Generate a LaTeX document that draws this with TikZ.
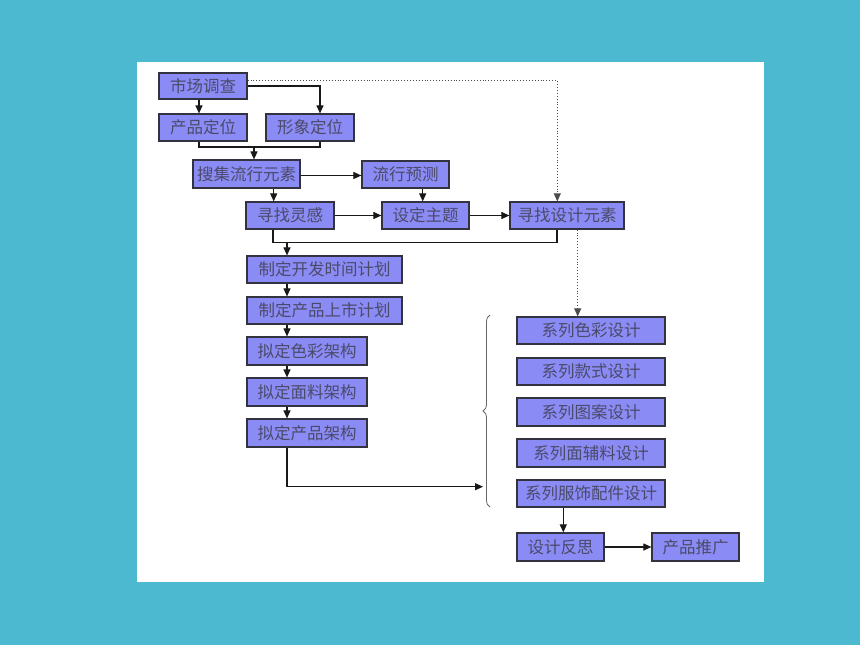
\documentclass[tikz,border=0pt]{standalone}
\usepackage{fontspec}
\newfontfamily\cjk{Noto Sans CJK SC}
\usetikzlibrary{arrows.meta,calc,decorations.pathreplacing}
\definecolor{bgteal}{HTML}{4CB9D0}
\definecolor{boxfill}{HTML}{8B8BF5}
\definecolor{boxtext}{HTML}{4A4A6A}
\definecolor{boxline}{HTML}{333340}
\begin{document}
\begin{tikzpicture}[x=1pt,y=-1pt,
  box/.style={draw=boxline,line width=1.2pt,fill=boxfill,text=boxtext,inner sep=0pt,
    font=\cjk\fontsize{16.5}{16.5}\selectfont,minimum height=27},
  conn/.style={line width=1.1pt,draw=black!90},
  arr/.style={conn,-{Triangle[length=8,width=7]}},
  dotarr/.style={line width=0.9pt,draw=black!70,dotted,-{Triangle[length=8,width=7]}}]
\fill[bgteal] (0,0) rectangle (860,645);
\fill[white] (137,62) rectangle (764,582);
\useasboundingbox (0,0) rectangle (860,645);
% nodes
\node[box,minimum width=88,minimum height=26] (a) at (203,86) {市场调查};
\node[box,minimum width=88] (b) at (203,127.5) {产品定位};
\node[box,minimum width=88] (c) at (310,127.5) {形象定位};
\node[box,minimum width=107,minimum height=28] (d) at (246.5,174) {搜集流行元素};
\node[box,minimum width=87] (e) at (405.5,174.5) {流行预测};
\node[box,minimum width=88] (f) at (290,215.5) {寻找灵感};
\node[box,minimum width=87] (g) at (425.5,215.5) {设定主题};
\node[box,minimum width=114] (h) at (567,215.5) {寻找设计元素};
\node[box,minimum width=155] (i) at (324.5,269.5) {制定开发时间计划};
\node[box,minimum width=155] (j) at (324.5,310.5) {制定产品上市计划};
\node[box,minimum width=120,minimum height=28] (k) at (307,351) {拟定色彩架构};
\node[box,minimum width=120,minimum height=28] (l) at (307,392) {拟定面料架构};
\node[box,minimum width=120,minimum height=28] (m) at (307,433) {拟定产品架构};
\node[box,minimum width=148] (n) at (591,330.5) {系列色彩设计};
\node[box,minimum width=148] (o) at (591,371.5) {系列款式设计};
\node[box,minimum width=148,minimum height=28] (p) at (591,412) {系列图案设计};
\node[box,minimum width=148,minimum height=28] (q) at (591,453) {系列面辅料设计};
\node[box,minimum width=148] (r) at (591,493.5) {系列服饰配件设计};
\node[box,minimum width=87,minimum height=28] (s) at (560.5,547) {设计反思};
\node[box,minimum width=87,minimum height=28] (t) at (695.5,547) {产品推广};
% helper coordinates
\coordinate (j1) at (254,147);
\coordinate (j2) at (287,242.7);
\coordinate (col) at (287,0);
\coordinate (bt) at (483,486.7);
\coordinate (bra) at (490,507);
\coordinate (brb) at (490,315);
% connectors
\draw[arr] ([xshift=-4]a.south) -- ([xshift=-4]b.north);
\draw[arr] (a.east) -| ([xshift=10]c.north);
\draw[dotarr] ([yshift=5.3]a.east) -| ([xshift=-9.7]h.north);
\draw[conn] ([xshift=-4]b.south) |- (j1) -| ([xshift=10]c.south);
\draw[arr] (j1) -- (j1 |- d.north);
\draw[arr] ([yshift=-1.5]d.east) -- ([yshift=-1.5]d.east -| e.west);
\draw[arr] ([xshift=27.2]d.south) -- ([xshift=27.2]d.south |- f.north);
\draw[arr] ([xshift=17.2]e.south) -- ([xshift=17.2]e.south |- g.north);
\draw[arr] (f.east) -- (g.west);
\draw[arr] (g.east) -- (h.west);
\draw[conn] ([xshift=-17]f.south) |- (j2) -| ([xshift=-10]h.south);
\draw[arr] (j2) -- (j2 |- i.north);
\draw[dotarr] ([xshift=10.7]h.south) -- ([xshift=10.7]h.south |- n.north);
\draw[arr] (i.south -| col) -- (j.north -| col);
\draw[arr] (j.south -| col) -- (k.north -| col);
\draw[arr] (k.south -| col) -- (l.north -| col);
\draw[arr] (l.south -| col) -- (m.north -| col);
\draw[arr] (m.south -| col) |- (bt);
\draw[line width=0.8pt,draw=black!60,decorate,decoration={brace,amplitude=7pt}] (bra) -- (brb);
\draw[arr] ([xshift=-27.7]r.south) -- ([xshift=-27.7]r.south |- s.north);
\draw[arr] (s.east) -- (t.west);
\end{tikzpicture}
\end{document}
